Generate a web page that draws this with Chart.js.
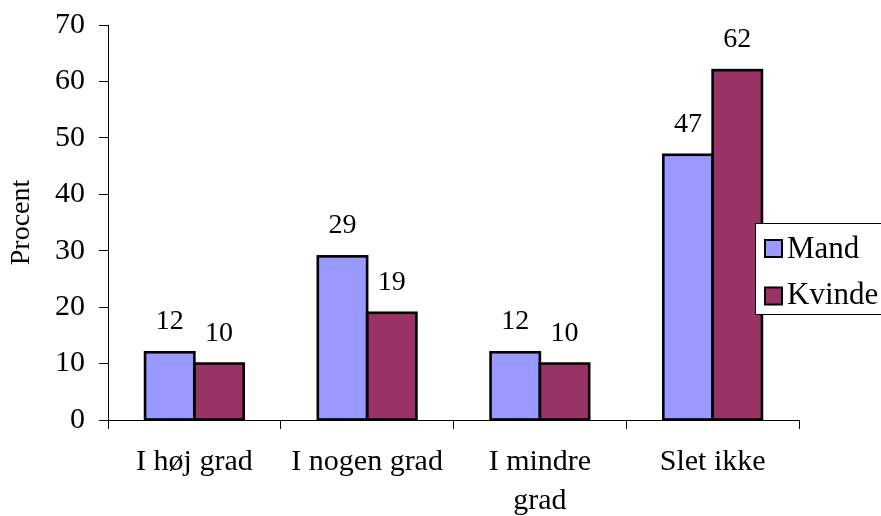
<!DOCTYPE html>
<html>
<head>
<meta charset="utf-8">
<script src="https://cdn.jsdelivr.net/npm/chart.js@4/dist/chart.umd.min.js"></script>
<style>
  html, body { margin: 0; padding: 0; background: #ffffff; }
  #wrap { width: 881px; height: 516px; }
</style>
</head>
<body>
<div id="wrap"><canvas id="c" width="881" height="516"></canvas></div>
<script>
// Survey answers split by gender (percent)
const categories = [['I høj grad'], ['I nogen grad'], ['I mindre', 'grad'], ['Slet ikke']];
const mandValues = [12, 29, 12, 47];
const kvindeValues = [10, 19, 10, 62];
const seriesNames = ['Mand', 'Kvinde'];
const seriesColors = ['#9999FF', '#993366'];
const yTickValues = [0, 10, 20, 30, 40, 50, 60, 70];

const FONT = "'Liberation Serif', 'Times New Roman', Times, serif";

// Outlines drawn centred on each bar's edges, plus value labels above the bars
const barDecor = {
  id: 'barDecor',
  afterDatasetsDraw(chart) {
    const ctx = chart.ctx;
    ctx.save();
    ctx.strokeStyle = '#000000';
    ctx.lineWidth = 2.6;
    chart.data.datasets.forEach((ds, i) => {
      chart.getDatasetMeta(i).data.forEach((bar) => {
        const p = bar.getProps(['x', 'y', 'base', 'width'], true);
        ctx.strokeRect(p.x - p.width / 2, p.y, p.width, p.base - p.y);
      });
    });
    ctx.font = '28px ' + FONT;
    ctx.fillStyle = '#000000';
    ctx.textAlign = 'center';
    ctx.textBaseline = 'alphabetic';
    chart.data.datasets.forEach((ds, i) => {
      chart.getDatasetMeta(i).data.forEach((bar, j) => {
        const p = bar.getProps(['x', 'y'], true);
        ctx.fillText(String(ds.data[j]), p.x, p.y - 23);
      });
    });
    ctx.restore();
  }
};

// Boxed legend sitting over the right edge of the plot
const boxLegend = {
  id: 'boxLegend',
  afterDraw(chart) {
    const ctx = chart.ctx;
    const bx = 755.5, by = 223.5, bw = 140, bh = 91;
    ctx.save();
    ctx.fillStyle = '#ffffff';
    ctx.fillRect(bx, by, bw, bh);
    ctx.strokeStyle = '#000000';
    ctx.lineWidth = 1;
    ctx.strokeRect(bx, by, bw, bh);
    ctx.font = '31px ' + FONT;
    ctx.textAlign = 'left';
    ctx.textBaseline = 'alphabetic';
    const rows = [{ boxY: 240, textY: 258 }, { boxY: 287.5, textY: 304 }];
    chart.data.datasets.forEach((ds, i) => {
      const r = rows[i];
      ctx.fillStyle = ds.backgroundColor;
      ctx.fillRect(765, r.boxY, 17, 17);
      ctx.lineWidth = 2;
      ctx.strokeStyle = '#000000';
      ctx.strokeRect(765, r.boxY, 17, 17);
      ctx.fillStyle = '#000000';
      ctx.fillText(ds.label, 787, r.textY);
    });
    ctx.restore();
  }
};

new Chart(document.getElementById('c'), {
  type: 'bar',
  data: {
    labels: categories,
    datasets: [
      { label: seriesNames[0], data: mandValues, backgroundColor: seriesColors[0], borderWidth: 0 },
      { label: seriesNames[1], data: kvindeValues, backgroundColor: seriesColors[1], borderWidth: 0 }
    ]
  },
  options: {
    responsive: false,
    animation: false,
    devicePixelRatio: 1,
    layout: { padding: { top: 25, right: 82, left: 0, bottom: 0 } },
    datasets: { bar: { categoryPercentage: 0.571, barPercentage: 1.0 } },
    plugins: { legend: { display: false }, tooltip: { enabled: false } },
    scales: {
      x: {
        offset: true,
        grid: { offset: true, drawOnChartArea: false, drawTicks: true, tickLength: 9, color: '#000000', lineWidth: 1 },
        border: { display: true, color: '#000000', width: 1 },
        ticks: { color: '#000000', font: { family: FONT, size: 30, lineHeight: 1.3 }, padding: 14, maxRotation: 0, autoSkip: false },
        afterFit(scale) { scale.height = 96; scale.paddingLeft = 0; scale.paddingRight = 0; }
      },
      y: {
        min: 0,
        max: 70,
        afterBuildTicks(scale) { scale.ticks = yTickValues.map(v => ({ value: v })); },
        grid: { drawOnChartArea: false, drawTicks: true, tickLength: 9, color: '#000000', lineWidth: 1 },
        border: { display: true, color: '#000000', width: 1 },
        ticks: { color: '#000000', font: { family: FONT, size: 30 }, padding: 14 },
        title: { display: true, text: 'Procent', color: '#000000', font: { family: FONT, size: 28 }, padding: { top: 5, bottom: 0 } },
        afterFit(scale) { scale.width = 108; scale.paddingTop = 0; scale.paddingBottom = 0; }
      }
    }
  },
  plugins: [barDecor, boxLegend]
});
</script>
</body>
</html>
